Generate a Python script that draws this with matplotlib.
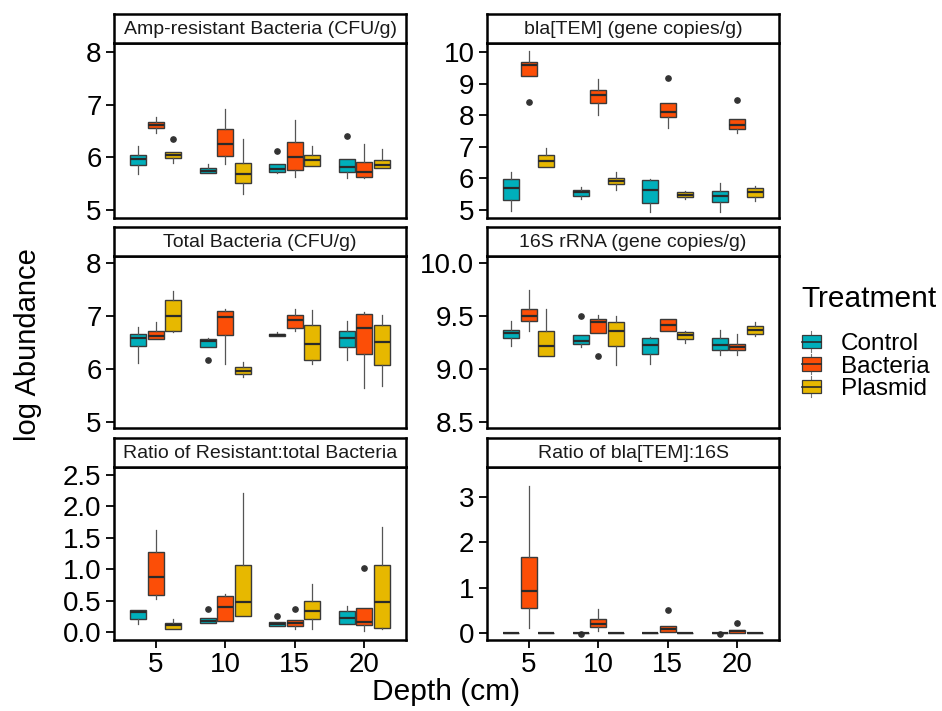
import numpy as np
import matplotlib
matplotlib.use('Agg')
import matplotlib.pyplot as plt
from matplotlib.patches import Patch, Rectangle
from matplotlib.lines import Line2D
from matplotlib.legend_handler import HandlerBase

plt.rcParams['font.family'] = ['Liberation Sans', 'DejaVu Sans']

depths = ['5', '10', '15', '20']
treatments = ['Control', 'Bacteria', 'Plasmid']
colors = ['#00AFBB', '#FC4E07', '#E7B800']

# box stats per depth, per treatment (Control, Bacteria, Plasmid): lo, q1, med, q3, hi
amp_stats = [
    [(5.69, 5.86, 5.96, 6.04, 6.22), (6.46, 6.56, 6.62, 6.67, 6.76), (5.90, 5.98, 6.04, 6.11, 6.11)],
    [(5.71, 5.71, 5.74, 5.79, 5.88), (5.87, 6.02, 6.25, 6.53, 6.91), (5.30, 5.52, 5.69, 5.90, 6.35)],
    [(5.71, 5.73, 5.78, 5.88, 5.88), (5.63, 5.77, 6.00, 6.30, 6.71), (5.84, 5.84, 5.95, 6.04, 6.21)],
    [(5.61, 5.73, 5.81, 5.96, 5.96), (5.60, 5.62, 5.73, 5.91, 6.26), (5.79, 5.79, 5.86, 5.95, 6.16)],
]
amp_out = [(0, 2, 6.34), (2, 0, 6.12), (3, 0, 6.41)]

tem_stats = [
    [(4.96, 5.32, 5.69, 5.98, 6.19), (9.24, 9.24, 9.58, 9.69, 10.03), (6.37, 6.37, 6.54, 6.73, 6.95)],
    [(5.36, 5.44, 5.56, 5.65, 5.72), (8.01, 8.37, 8.63, 8.80, 9.15), (5.64, 5.81, 5.93, 6.02, 6.20)],
    [(4.93, 5.21, 5.63, 5.95, 5.98), (7.59, 7.93, 8.09, 8.37, 8.37), (5.36, 5.42, 5.49, 5.56, 5.61)],
    [(4.94, 5.27, 5.46, 5.59, 5.86), (7.45, 7.55, 7.68, 7.89, 7.89), (5.29, 5.42, 5.56, 5.71, 5.77)],
]
tem_out = [(0, 1, 8.41), (2, 1, 9.18), (3, 1, 8.49)]

tot_stats = [
    [(6.12, 6.44, 6.59, 6.67, 6.80), (6.56, 6.56, 6.63, 6.71, 6.88), (6.70, 6.72, 7.00, 7.30, 7.47)],
    [(6.41, 6.41, 6.52, 6.56, 6.59), (6.10, 6.65, 6.98, 7.10, 7.13), (5.85, 5.90, 5.97, 6.03, 6.14)],
    [(6.62, 6.62, 6.64, 6.67, 6.69), (6.71, 6.78, 6.92, 7.01, 7.13), (6.10, 6.17, 6.48, 6.83, 7.11)],
    [(6.18, 6.42, 6.59, 6.71, 6.90), (5.65, 6.29, 6.77, 7.03, 7.08), (5.68, 6.08, 6.51, 6.83, 7.02)],
]
tot_out = [(1, 0, 6.17)]

rrna_stats = [
    [(9.22, 9.29, 9.34, 9.37, 9.45), (9.36, 9.45, 9.50, 9.57, 9.75), (9.12, 9.12, 9.22, 9.36, 9.57)],
    [(9.21, 9.24, 9.26, 9.32, 9.32), (9.34, 9.34, 9.44, 9.47, 9.51), (9.04, 9.22, 9.36, 9.44, 9.50)],
    [(9.05, 9.14, 9.23, 9.29, 9.30), (9.36, 9.36, 9.42, 9.47, 9.47), (9.25, 9.28, 9.32, 9.35, 9.36)],
    [(9.13, 9.18, 9.23, 9.29, 9.37), (9.13, 9.18, 9.21, 9.24, 9.33), (9.31, 9.33, 9.37, 9.41, 9.44)],
]
rrna_out = [(1, 0, 9.50), (1, 1, 9.12)]

rres_stats = [
    [(0.12, 0.21, 0.31, 0.35, 0.35), (0.53, 0.58, 0.88, 1.27, 1.63), (0.05, 0.05, 0.11, 0.14, 0.20)],
    [(0.14, 0.14, 0.18, 0.22, 0.22), (0.17, 0.17, 0.39, 0.57, 0.60), (0.26, 0.26, 0.48, 1.07, 2.22)],
    [(0.10, 0.10, 0.13, 0.15, 0.15), (0.04, 0.10, 0.14, 0.19, 0.19), (0.04, 0.20, 0.34, 0.50, 0.76)],
    [(0.13, 0.13, 0.22, 0.34, 0.41), (0.01, 0.11, 0.16, 0.38, 0.38), (0.05, 0.06, 0.48, 1.06, 1.68)],
]
rres_out = [(1, 0, 0.37), (2, 0, 0.26), (2, 1, 0.37), (3, 1, 1.02)]

rtem_stats = [
    [(0, 0, 0, 0, 0), (0.11, 0.56, 0.94, 1.67, 3.25), (0, 0, 0, 0, 0)],
    [(0, 0, 0, 0, 0), (0.04, 0.13, 0.20, 0.32, 0.53), (0, 0, 0, 0, 0)],
    [(0, 0, 0, 0, 0), (0.03, 0.03, 0.10, 0.16, 0.16), (0, 0, 0, 0, 0)],
    [(0, 0, 0, 0, 0), (0.01, 0.01, 0.04, 0.07, 0.07), (0, 0, 0, 0, 0)],
]
rtem_out = [(1, 0, -0.02), (2, 1, 0.51), (3, 0, -0.02), (3, 1, 0.22)]

panels = [
    ('Amp-resistant Bacteria (CFU/g)', amp_stats, amp_out, (4.85, 8.17), [5, 6, 7, 8], ['5', '6', '7', '8']),
    ('bla[TEM] (gene copies/g)', tem_stats, tem_out, (4.75, 10.28), [5, 6, 7, 8, 9, 10], ['5', '6', '7', '8', '9', '10']),
    ('Total Bacteria (CFU/g)', tot_stats, tot_out, (4.89, 8.13), [5, 6, 7, 8], ['5', '6', '7', '8']),
    ('16S rRNA (gene copies/g)', rrna_stats, rrna_out, (8.44, 10.07), [8.5, 9.0, 9.5, 10.0], ['8.5', '9.0', '9.5', '10.0']),
    ('Ratio of Resistant:total Bacteria', rres_stats, rres_out, (-0.13, 2.63),
     [0, 0.5, 1.0, 1.5, 2.0, 2.5], ['0.0', '0.5', '1.0', '1.5', '2.0', '2.5']),
    ('Ratio of bla[TEM]:16S', rtem_stats, rtem_out, (-0.15, 3.66), [0, 1, 2, 3], ['0', '1', '2', '3']),
]

W, H = 942, 711
fig = plt.figure(figsize=(W / 100, H / 100), dpi=100)

col_x = [114, 487]
pan_w = 292
rows = [(43, 218), (256, 428), (467, 640)]
strip_h = 29

for k, (title, stats, outs, ylim, yt, ytl) in enumerate(panels):
    r, c = divmod(k, 2)
    top, bot = rows[r]
    ax = fig.add_axes([col_x[c] / W, 1 - bot / H, pan_w / W, (bot - top) / H])
    for i in range(len(depths)):
        for j in range(len(treatments)):
            lo, q1, med, q3, hi = stats[i][j]
            fl = [v for (di, ti, v) in outs if di == i and ti == j]
            st = dict(whislo=lo, q1=q1, med=med, q3=q3, whishi=hi, fliers=fl)
            ax.bxp([st], positions=[i + 1 + (j - 1) * 0.25], widths=0.23, patch_artist=True,
                   showcaps=False,
                   boxprops=dict(facecolor=colors[j], edgecolor='#3a3a3a', linewidth=1.0),
                   medianprops=dict(color='#2a2a2a', linewidth=1.6),
                   whiskerprops=dict(color='#555555', linewidth=0.9),
                   flierprops=dict(marker='o', markersize=3.8, markerfacecolor='#333333',
                                   markeredgecolor='#333333'))
    ax.set_xlim(0.4, 4.6)
    ax.set_ylim(*ylim)
    ax.set_yticks(yt)
    ax.set_yticklabels(ytl)
    ax.set_xticks(range(1, 5))
    for s in ax.spines.values():
        s.set_linewidth(1.8)
        s.set_color('black')
    ax.tick_params(axis='both', length=6, width=1.3, pad=3, labelsize=20, colors='black')
    if r == 2:
        ax.set_xticklabels(depths)
    else:
        ax.tick_params(axis='x', bottom=False, labelbottom=False)

    # strip
    sax = fig.add_axes([col_x[c] / W, 1 - top / H, pan_w / W, strip_h / H])
    sax.set_xticks([])
    sax.set_yticks([])
    for s in sax.spines.values():
        s.set_linewidth(1.8)
    sax.text(0.5, 0.45, title, ha='center', va='center', fontsize=14, color='#1a1a1a',
             transform=sax.transAxes)

fig.text(28 / W, 1 - 345 / H, 'log Abundance', rotation=90, ha='center', va='center', fontsize=21)
fig.text(446 / W, 1 - 692 / H, 'Depth (cm)', ha='center', va='center', fontsize=21.5)


class BoxHandler(HandlerBase):
    def create_artists(self, legend, orig_handle, xdescent, ydescent, width, height, fontsize, trans):
        fc = orig_handle.get_facecolor()
        cx = width / 2 - xdescent
        bw = width * 0.9
        bh = height * 0.75
        y0 = -ydescent + (height - bh) / 2
        wl = Line2D([cx, cx], [-ydescent - 1, -ydescent + height + 1], color='#777777', lw=0.8, transform=trans)
        rect = Rectangle((cx - bw / 2, y0), bw, bh, facecolor=fc, edgecolor='#3a3a3a', lw=0.9, transform=trans)
        md = Line2D([cx - bw / 2, cx + bw / 2], [y0 + bh / 2, y0 + bh / 2], color='#2a2a2a', lw=1.2, transform=trans)
        return [wl, rect, md]


fig.text(801 / W, 1 - 299 / H, 'Treatment', ha='left', va='center', fontsize=21.5)
handles = [Patch(facecolor=col) for col in colors]
leg = fig.legend(handles, treatments, loc='upper left', bbox_to_anchor=(779 / W, 1 - 311 / H),
                 frameon=False, fontsize=17.5, borderaxespad=0.5,
                 handlelength=0.85, handleheight=0.75, handletextpad=0.8, labelspacing=0.0,
                 handler_map={Patch: BoxHandler()})

fig.savefig('out.png', dpi=100)
